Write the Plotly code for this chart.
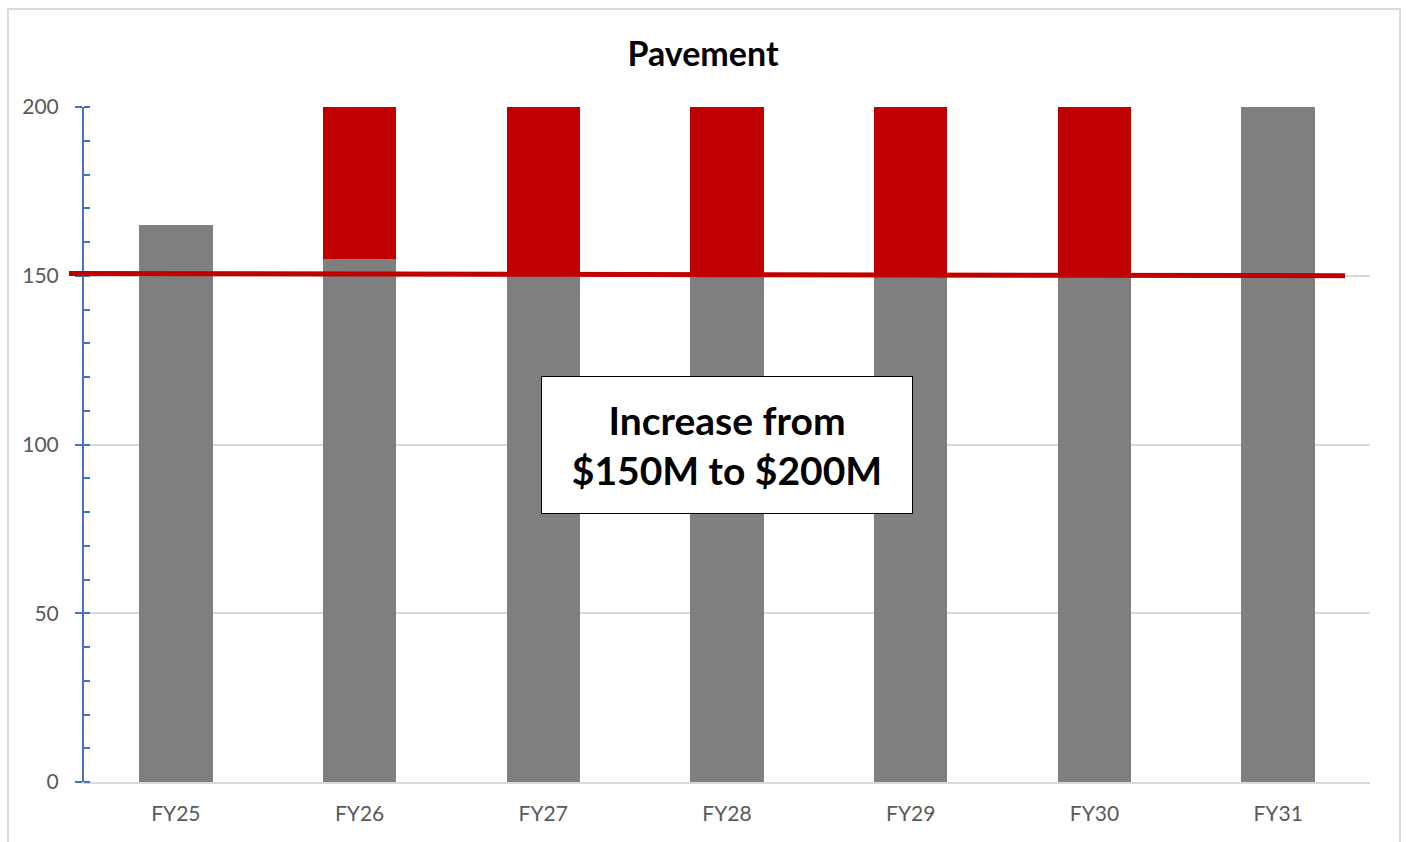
import plotly.graph_objects as go

categories = ["FY25", "FY26", "FY27", "FY28", "FY29", "FY30", "FY31"]
base_values = [165, 155, 150, 150, 150, 150, 200]
increase_values = [0, 45, 50, 50, 50, 50, 0]
ref_line_start = 150.7
ref_line_end = 150.0
annotation_text = "Increase from<br>$150M to $200M"
title_text = "Pavement"

GRAY = "#7F7F7F"
RED = "#C00000"
FONT = "Lato"

fig = go.Figure()
fig.add_trace(go.Bar(x=categories, y=base_values, marker_color=GRAY,
                     marker_line_width=0, width=0.4, name="Base"))
fig.add_trace(go.Bar(x=categories, y=increase_values, marker_color=RED,
                     marker_line_width=0, width=0.4, name="Increase"))

L, R, T, B = 84, 36, 107, 60
W, H = 1406, 842
pw, ph = W - L - R, H - T - B

def px_x(p):
    return (p - L) / pw

def px_y(p):
    return (H - B - p) / ph

fig.update_layout(
    barmode="stack",
    width=W, height=H,
    margin=dict(l=L, r=R, t=T, b=B),
    paper_bgcolor="white", plot_bgcolor="white",
    showlegend=False,
    bargap=0.6,
    title=dict(text="<b>" + title_text + "</b>", x=0.5, xanchor="center",
               y=1 - 54 / H, yanchor="middle",
               font=dict(family=FONT, size=34, color="black")),
    font=dict(family=FONT),
)

fig.update_yaxes(range=[0, 200], dtick=50, showgrid=True, gridcolor="#D9D9D9",
                 gridwidth=1.5, zeroline=False,
                 showline=True, linecolor="#4472C4", linewidth=2,
                 ticks="outside", ticklen=7, tickcolor="#4472C4", tickwidth=2,
                 minor=dict(dtick=10, ticks="inside", ticklen=6,
                            tickcolor="#4472C4", tickwidth=1.5, showgrid=False),
                 tickfont=dict(family=FONT, size=21, color="#595959"),
                 ticklabelstandoff=12)
fig.update_xaxes(showgrid=False, showline=True, linecolor="#D9D9D9", linewidth=2,
                 ticks="", tickfont=dict(family=FONT, size=21, color="#595959"),
                 ticklabelstandoff=12, range=[-0.5, 6.5])

# Reference line (drawn shape in original)
fig.add_shape(type="line", xref="paper", yref="y",
              x0=px_x(69), x1=px_x(1345), y0=ref_line_start, y1=ref_line_end,
              line=dict(color=RED, width=5), layer="above")

# Outer chart border
fig.add_shape(type="rect", xref="paper", yref="paper",
              x0=px_x(8), x1=px_x(1400), y0=px_y(846), y1=px_y(9),
              line=dict(color="#D9D9D9", width=2), fillcolor="rgba(0,0,0,0)")

fig.add_annotation(xref="paper", yref="y", x=0.5, y=100,
                   text="<b>" + annotation_text + "</b>", showarrow=False,
                   font=dict(family=FONT, size=39, color="black"),
                   bgcolor="white", bordercolor="black", borderwidth=1,
                   borderpad=0, width=370, height=136, align="center")

fig.write_html("out.html")
